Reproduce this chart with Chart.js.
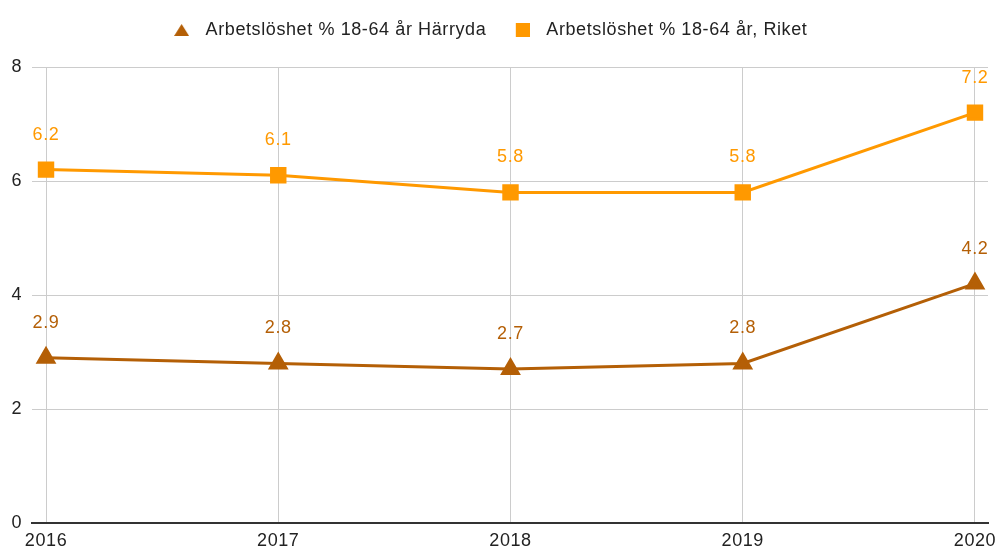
<!DOCTYPE html>
<html>
<head>
<meta charset="utf-8">
<script src="https://cdn.jsdelivr.net/npm/chart.js@4"></script>
<style>
  html, body { margin:0; padding:0; background:#fff; }
  #wrap { width:997px; height:551px; }
</style>
</head>
<body>
<div id="wrap"><canvas id="c"></canvas></div>
<script>
const years = [2016, 2017, 2018, 2019, 2020];
const harryda = [2.9, 2.8, 2.7, 2.8, 4.2];
const riket = [6.2, 6.1, 5.8, 5.8, 7.2];
const yTicks = [0, 2, 4, 6, 8];

const BROWN = '#b45f06', ORANGE = '#ff9900';
const FONT = '"Liberation Sans", Arial, sans-serif';
const FSIZE = 18;
const SPACING = '0.6px';

// small canvases used as legend symbols
function legendIcon(kind, color){
  const c = document.createElement('canvas');
  c.width = 15; c.height = 14;
  const g = c.getContext('2d');
  g.fillStyle = color;
  if (kind === 'tri') {
    g.beginPath(); g.moveTo(7.5, 1); g.lineTo(15, 13); g.lineTo(0, 13); g.closePath(); g.fill();
  } else {
    g.fillRect(1, 0, 14, 14);
  }
  return c;
}
const icons = [legendIcon('tri', BROWN), legendIcon('sq', ORANGE)];

// slightly wider text + room under the legend
const textSpacing = {
  id: 'textSpacing',
  beforeUpdate(chart){ chart.ctx.letterSpacing = SPACING; },
  beforeDraw(chart){ chart.ctx.letterSpacing = SPACING; },
  afterInit(chart){
    const lg = chart.legend;
    const fit = lg.fit;
    lg.fit = function(){ fit.call(this); this.height = 67; };
  },
  afterLayout(chart){
    chart.legend.left -= 7;
    chart.legend.right -= 7;
  }
};

// value labels above each point
const valueLabels = {
  id: 'valueLabels',
  afterDatasetsDraw(chart){
    const ctx = chart.ctx;
    ctx.save();
    ctx.font = FSIZE + 'px ' + FONT;
    ctx.textAlign = 'center';
    ctx.textBaseline = 'middle';
    chart.data.datasets.forEach((ds, i) => {
      const meta = chart.getDatasetMeta(i);
      ctx.fillStyle = ds.borderColor;
      meta.data.forEach((pt, j) => {
        ctx.fillText(ds.data[j].y.toFixed(1), pt.x, pt.y - 35);
      });
    });
    ctx.restore();
  }
};

const toXY = (arr) => arr.map((v, i) => ({ x: years[i], y: v }));

new Chart(document.getElementById('c'), {
  type: 'line',
  data: {
    datasets: [
      {
        label: 'Arbetslöshet % 18-64 år Härryda',
        data: toXY(harryda),
        borderColor: BROWN, backgroundColor: BROWN,
        borderWidth: 3, pointStyle: 'triangle', pointRadius: 9, pointHoverRadius: 9
      },
      {
        label: 'Arbetslöshet % 18-64 år, Riket',
        data: toXY(riket),
        borderColor: ORANGE, backgroundColor: ORANGE,
        borderWidth: 3, pointStyle: 'rect', pointRadius: 9.5, pointHoverRadius: 9.5
      }
    ]
  },
  options: {
    responsive: true, maintainAspectRatio: false, animation: false,
    layout: { autoPadding: false, padding: { top: 0, right: 9, bottom: 0, left: 0 } },
    plugins: {
      tooltip: { enabled: false },
      legend: {
        position: 'top',
        labels: {
          usePointStyle: true, pointStyleWidth: 30, boxHeight: 14, padding: 21,
          color: '#222', font: { family: FONT, size: FSIZE },
          generateLabels(chart){
            const items = Chart.defaults.plugins.legend.labels.generateLabels(chart);
            items.forEach((it, i) => { it.pointStyle = icons[i]; });
            return items;
          }
        }
      }
    },
    scales: {
      x: {
        type: 'linear',
        min: 2016 - 14/232, max: 2020 + 13/232,
        afterBuildTicks: (s) => { s.ticks = years.map(v => ({ value: v })); },
        afterFit: (s) => { s.height = 28; s.paddingLeft = 0; s.paddingRight = 0; },
        grid: { color: '#ccc', drawTicks: false },
        border: { display: true, color: '#333', width: 2 },
        ticks: { color: '#222', font: { family: FONT, size: FSIZE }, padding: 7, callback: v => String(v) }
      },
      y: {
        min: 0, max: 8,
        afterBuildTicks: (s) => { s.ticks = yTicks.map(v => ({ value: v })); },
        afterFit: (s) => { s.width = 32; },
        grid: { color: '#ccc', drawTicks: false },
        border: { display: false },
        ticks: { color: '#222', font: { family: FONT, size: FSIZE }, padding: 10 }
      }
    }
  },
  plugins: [textSpacing, valueLabels]
});
</script>
</body>
</html>
